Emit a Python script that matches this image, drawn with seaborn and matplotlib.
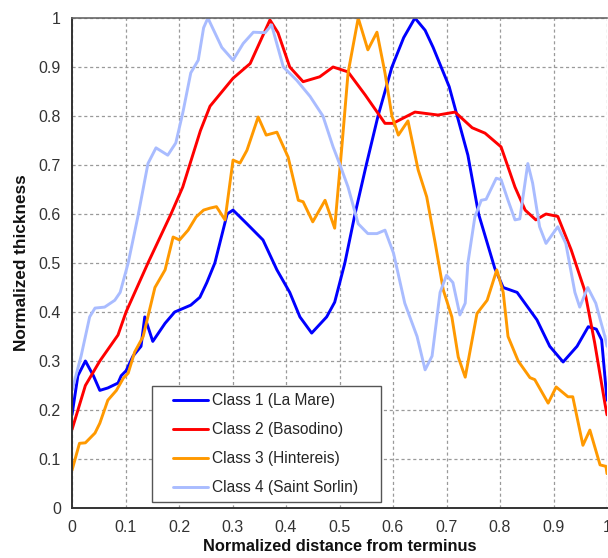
import numpy as np
import pandas as pd
import matplotlib
matplotlib.use("Agg")
import matplotlib.pyplot as plt
import seaborn as sns
from matplotlib.lines import Line2D
from matplotlib.legend_handler import HandlerLine2D

# ---- data ----
labels = ["Class 1 (La Mare)", "Class 2 (Basodino)", "Class 3 (Hintereis)", "Class 4 (Saint Sorlin)"]
colors = ["#0000FF", "#FF0000", "#FF9900", "#A9BCFF"]

c1_x = [0.0, 0.011, 0.025, 0.04, 0.052, 0.067, 0.086, 0.092, 0.101, 0.114, 0.129, 0.136, 0.151,
        0.174, 0.192, 0.222, 0.239, 0.252, 0.267, 0.29, 0.301, 0.327, 0.357, 0.383, 0.407, 0.426,
        0.448, 0.476, 0.491, 0.51, 0.529, 0.55, 0.572, 0.598, 0.62, 0.641, 0.66, 0.675, 0.69,
        0.705, 0.72, 0.74, 0.76, 0.79, 0.806, 0.832, 0.869, 0.893, 0.918, 0.944, 0.965, 0.98,
        0.99, 1.0]
c1_y = [0.19, 0.27, 0.30, 0.27, 0.24, 0.245, 0.255, 0.27, 0.28, 0.31, 0.33, 0.39, 0.34,
        0.377, 0.40, 0.414, 0.43, 0.46, 0.50, 0.60, 0.608, 0.58, 0.547, 0.486, 0.44, 0.39,
        0.357, 0.39, 0.42, 0.50, 0.60, 0.70, 0.80, 0.90, 0.96, 1.0, 0.975, 0.94, 0.90,
        0.86, 0.80, 0.72, 0.60, 0.49, 0.45, 0.44, 0.384, 0.33, 0.298, 0.33, 0.37, 0.365,
        0.343, 0.22]

c2_x = [0.0, 0.025, 0.052, 0.086, 0.101, 0.142, 0.185, 0.207, 0.24, 0.258, 0.301, 0.333, 0.37,
        0.385, 0.407, 0.432, 0.463, 0.488, 0.516, 0.548, 0.585, 0.60, 0.641, 0.684, 0.716,
        0.748, 0.772, 0.802, 0.828, 0.847, 0.867, 0.886, 0.908, 0.933, 0.958, 0.977, 0.996, 1.0]
c2_y = [0.16, 0.25, 0.30, 0.353, 0.40, 0.50, 0.60, 0.655, 0.77, 0.82, 0.877, 0.907, 0.996,
        0.97, 0.90, 0.87, 0.88, 0.90, 0.89, 0.843, 0.785, 0.785, 0.808, 0.802, 0.808,
        0.776, 0.765, 0.737, 0.655, 0.608, 0.588, 0.60, 0.595, 0.527, 0.445, 0.337, 0.214, 0.19]

c3_x = [0.0, 0.014, 0.025, 0.043, 0.052, 0.067, 0.083, 0.096, 0.105, 0.117, 0.133, 0.155, 0.174,
        0.189, 0.201, 0.217, 0.232, 0.246, 0.258, 0.27, 0.286, 0.301, 0.314, 0.327, 0.348,
        0.363, 0.383, 0.404, 0.423, 0.432, 0.45, 0.473, 0.491, 0.505, 0.516, 0.535, 0.553,
        0.57, 0.585, 0.598, 0.61, 0.628, 0.647, 0.663, 0.679, 0.694, 0.71, 0.722, 0.735,
        0.757, 0.776, 0.794, 0.806, 0.815, 0.834, 0.856, 0.865, 0.89, 0.905, 0.927, 0.936,
        0.955, 0.968, 0.987, 0.998, 1.0]
c3_y = [0.077, 0.132, 0.133, 0.153, 0.173, 0.22, 0.24, 0.265, 0.275, 0.318, 0.35, 0.45, 0.486,
        0.553, 0.547, 0.567, 0.594, 0.608, 0.612, 0.615, 0.588, 0.71, 0.704, 0.73, 0.798,
        0.761, 0.767, 0.716, 0.628, 0.625, 0.584, 0.628, 0.571, 0.745, 0.888, 1.0, 0.935,
        0.971, 0.888, 0.80, 0.761, 0.79, 0.69, 0.635, 0.54, 0.445, 0.39, 0.308, 0.267,
        0.397, 0.424, 0.486, 0.44, 0.35, 0.30, 0.266, 0.262, 0.214, 0.247, 0.227, 0.227,
        0.128, 0.159, 0.088, 0.085, 0.07]

c4_x = [0.0, 0.017, 0.033, 0.043, 0.061, 0.08, 0.09, 0.105, 0.123, 0.142, 0.157, 0.179, 0.194,
        0.207, 0.222, 0.236, 0.246, 0.254, 0.28, 0.301, 0.32, 0.339, 0.361, 0.373, 0.395,
        0.42, 0.445, 0.469, 0.488, 0.5, 0.516, 0.535, 0.553, 0.57, 0.585, 0.601, 0.622,
        0.645, 0.66, 0.673, 0.688, 0.70, 0.712, 0.725, 0.735, 0.74, 0.753, 0.765, 0.774,
        0.793, 0.802, 0.815, 0.828, 0.837, 0.852, 0.861, 0.874, 0.886, 0.908, 0.923, 0.94,
        0.949, 0.964, 0.979, 0.996, 1.0]
c4_y = [0.24, 0.31, 0.39, 0.408, 0.41, 0.424, 0.44, 0.50, 0.594, 0.703, 0.735, 0.72, 0.745,
        0.806, 0.888, 0.914, 0.98, 1.0, 0.94, 0.914, 0.948, 0.971, 0.97, 0.986, 0.90,
        0.873, 0.84, 0.80, 0.737, 0.703, 0.655, 0.58, 0.56, 0.56, 0.567, 0.52, 0.418,
        0.35, 0.282, 0.31, 0.44, 0.475, 0.46, 0.394, 0.418, 0.50, 0.594, 0.628, 0.63,
        0.673, 0.67, 0.628, 0.588, 0.59, 0.703, 0.663, 0.574, 0.54, 0.574, 0.54, 0.44,
        0.41, 0.45, 0.418, 0.35, 0.33]

xticks = [0, 0.1, 0.2, 0.3, 0.4, 0.5, 0.6, 0.7, 0.8, 0.9, 1]
tick_labels = ["0", "0.1", "0.2", "0.3", "0.4", "0.5", "0.6", "0.7", "0.8", "0.9", "1"]

series = [(c1_x, c1_y), (c2_x, c2_y), (c3_x, c3_y), (c4_x, c4_y)]
frames = []
for i, (xs, ys) in enumerate(series):
    frames.append(pd.DataFrame({"x": xs, "y": ys, "cls": labels[i]}))
df = pd.concat(frames, ignore_index=True)

# ---- figure ----
sns.set_theme(style="white")
plt.rcParams["font.family"] = ["Liberation Sans", "DejaVu Sans"]

fig = plt.figure(figsize=(6.08, 5.58), dpi=100)
ax = fig.add_axes([72 / 608, 1 - 508 / 558, 535 / 608, 490 / 558])

sns.lineplot(data=df, x="x", y="y", hue="cls", hue_order=labels,
             palette=dict(zip(labels, colors)), estimator=None, units="cls",
             sort=False, linewidth=2.1, ax=ax, legend=False)
for ln in ax.get_lines():
    ln.set_solid_joinstyle("round")
    ln.set_solid_capstyle("round")

ax.set_xlim(0, 1)
ax.set_ylim(0, 1)
ax.set_xticks(xticks)
ax.set_xticklabels(tick_labels)
ax.set_yticks(xticks)
ax.set_yticklabels(tick_labels)
ax.tick_params(axis="both", direction="out", length=4, width=1.2, labelsize=11.5,
               colors="#333333", pad=4)
ax.tick_params(axis="x", pad=5)
ax.grid(True, color="#9a9a9a", linestyle=(0, (2.5, 2.2)), linewidth=0.9)
ax.set_axisbelow(True)

for s in ["left", "bottom"]:
    ax.spines[s].set_color("#333333")
    ax.spines[s].set_linewidth(1.4)
ax.spines["top"].set_color("#666666")
ax.spines["top"].set_linewidth(1.2)
ax.spines["right"].set_visible(False)

ax.set_xlabel("Normalized distance from terminus", fontsize=11.8, fontweight="bold",
              labelpad=2.5, color="#111111")
ax.set_ylabel("Normalized thickness", fontsize=12.3, fontweight="bold", labelpad=7,
              color="#111111")

fs = 11.2
handles = [Line2D([], [], color=c, linewidth=2.1) for c in colors]
leg = ax.legend(handles, labels, loc="lower left",
                bbox_to_anchor=(80 / 535, 6 / 490, 229 / 535, 115 / 490),
                mode="expand", borderaxespad=0, fontsize=fs, frameon=True, fancybox=False,
                edgecolor="#555555", framealpha=1, handlelength=3.15, handletextpad=0.26,
                labelspacing=0.9, borderpad=0.45,
                handler_map={Line2D: HandlerLine2D(xpad=0.9)})
leg.get_frame().set_linewidth(1.0)

fig.savefig("out.png", dpi=100)
